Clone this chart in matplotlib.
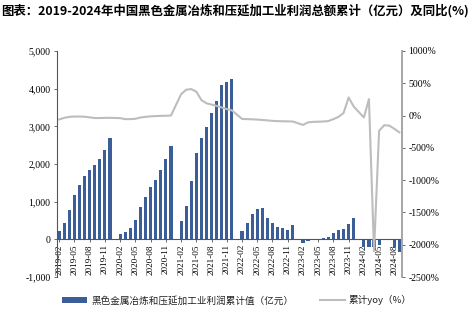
import numpy as np
import matplotlib
matplotlib.use('Agg')
import matplotlib.pyplot as plt
from matplotlib.ticker import FuncFormatter, FixedLocator, FixedFormatter

# cumulative profit (100m yuan), Feb..Dec for each year (Jan not reported)
profit_2019 = [213, 426, 782, 1172, 1448, 1687, 1829, 1980, 2140, 2362, 2682]
profit_2020 = [142, 187, 311, 506, 853, 1119, 1385, 1581, 1847, 2131, 2469]
profit_2021 = [488, 888, 1536, 2291, 2682, 2975, 3348, 3677, 4085, 4165, 4245]
profit_2022 = [213, 435, 666, 808, 835, 577, 426, 329, 302, 240, 382]
profit_2023 = [-100, -55, -18, -10, 25, 65, 165, 250, 280, 415, 570]
profit_2024 = [-190, -205, -200, -150, -20, -30, -190, -340]

# cumulative yoy (%)
yoy_2019 = [-60, -35, -20, -15, -15, -18, -28, -38, -38, -36, -35]
yoy_2020 = [-40, -55, -55, -50, -30, -20, -12, -8, -5, -3, 0]
yoy_2021 = [330, 400, 410, 370, 240, 190, 170, 150, 125, 100, 80]
yoy_2022 = [-52, -55, -58, -62, -68, -75, -82, -86, -88, -90, -92]
yoy_2023 = [-145, -105, -98, -95, -92, -85, -55, -20, 40, 280, 140]
yoy_2024 = [-30, 255, -2100, -235, -150, -155, -205, -260]

years = [2019, 2020, 2021, 2022, 2023, 2024]
profit_by_year = [profit_2019, profit_2020, profit_2021, profit_2022, profit_2023, profit_2024]
yoy_by_year = [yoy_2019, yoy_2020, yoy_2021, yoy_2022, yoy_2023, yoy_2024]

# month slots from 2019-02, January kept as an empty slot
labels, profit, yoy = [], [], []
for y, pv, yv in zip(years, profit_by_year, yoy_by_year):
    if y > 2019:
        labels.append(f'{y}-01')
        profit.append(np.nan)
        yoy.append(np.nan)
    for k in range(len(pv)):
        labels.append(f'{y}-{k + 2:02d}')
        profit.append(pv[k])
        yoy.append(yv[k])
profit = np.array(profit, dtype=float)
yoy = np.array(yoy, dtype=float)
x = np.arange(len(labels))

serif = 'Liberation Serif'
cjk = ['Noto Sans CJK SC', 'DejaVu Sans']

fig = plt.figure(figsize=(4.74, 3.31), dpi=100)
ax = fig.add_axes([0.1196, 0.163, 0.7284, 0.683])
ax2 = ax.twinx()

ok = ~np.isnan(profit)
bars = ax.bar(x[ok], profit[ok], width=0.62, color='#3B5E98', zorder=2,
              label='黑色金属冶炼和压延加工业利润累计值（亿元）')
ok2 = ~np.isnan(yoy)
line, = ax2.plot(x[ok2], yoy[ok2], color='#BDBDBD', lw=1.5,
                 label='累计yoy（%）', zorder=3)

ax.set_xlim(-0.5, len(labels) - 0.5)
ax.set_ylim(-1000, 5000)
ax2.set_ylim(-2500, 1000)
ax.yaxis.set_major_locator(FixedLocator(list(range(-1000, 5001, 1000))))
ax2.yaxis.set_major_locator(FixedLocator(list(range(-2500, 1001, 500))))
ax.yaxis.set_major_formatter(FuncFormatter(lambda v, p: f'{v:,.0f}'))
ax2.yaxis.set_major_formatter(FuncFormatter(lambda v, p: f'{v:.0f}%'))

tick_idx = [i for i, s in enumerate(labels) if s[-2:] in ('02', '05', '08', '11')]
ax.xaxis.set_major_locator(FixedLocator(tick_idx))
ax.xaxis.set_major_formatter(FixedFormatter([labels[i] for i in tick_idx]))
ax.tick_params(axis='x', length=2.5, width=0.6, pad=1, color='#555555',
               labelrotation=90, labelsize=6.6)
ax.tick_params(axis='y', length=2.5, width=0.6, pad=2, color='#555555', labelsize=7)
ax2.tick_params(axis='y', length=2.5, width=0.6, pad=2, color='#555555', labelsize=7)

for a in (ax, ax2):
    a.spines['top'].set_visible(False)
    a.patch.set_visible(False)
ax.spines['right'].set_visible(False)
ax2.spines['left'].set_visible(False)
ax2.spines['bottom'].set_visible(False)
ax.spines['bottom'].set_position(('data', 0))
ax.spines['bottom'].set_color('#555555')
ax.spines['bottom'].set_linewidth(0.8)
ax.spines['left'].set_color('#555555')
ax.spines['left'].set_linewidth(0.8)
ax2.spines['right'].set_color('#A6A6A6')
ax2.spines['right'].set_linewidth(1.4)

fig.text(0.003, 0.967, '图表：2019-2024年中国黑色金属冶炼和压延加工业利润总额累计（亿元）及同比(%)',
         fontsize=8.95, fontweight='bold', family=cjk, va='center', ha='left')

leg = fig.legend(handles=[bars, line], loc='center', bbox_to_anchor=(0.5, 0.093),
                 ncol=2, frameon=False, handlelength=2.6, handleheight=0.6,
                 columnspacing=2.8, handletextpad=0.4,
                 prop={'family': cjk, 'size': 6.9})
for t in leg.get_texts():
    t.set_color('#222222')

fig.canvas.draw()
for t in ax.get_xticklabels() + ax.get_yticklabels() + ax2.get_yticklabels():
    t.set_fontfamily(serif)

fig.savefig('out.png', dpi=100)
